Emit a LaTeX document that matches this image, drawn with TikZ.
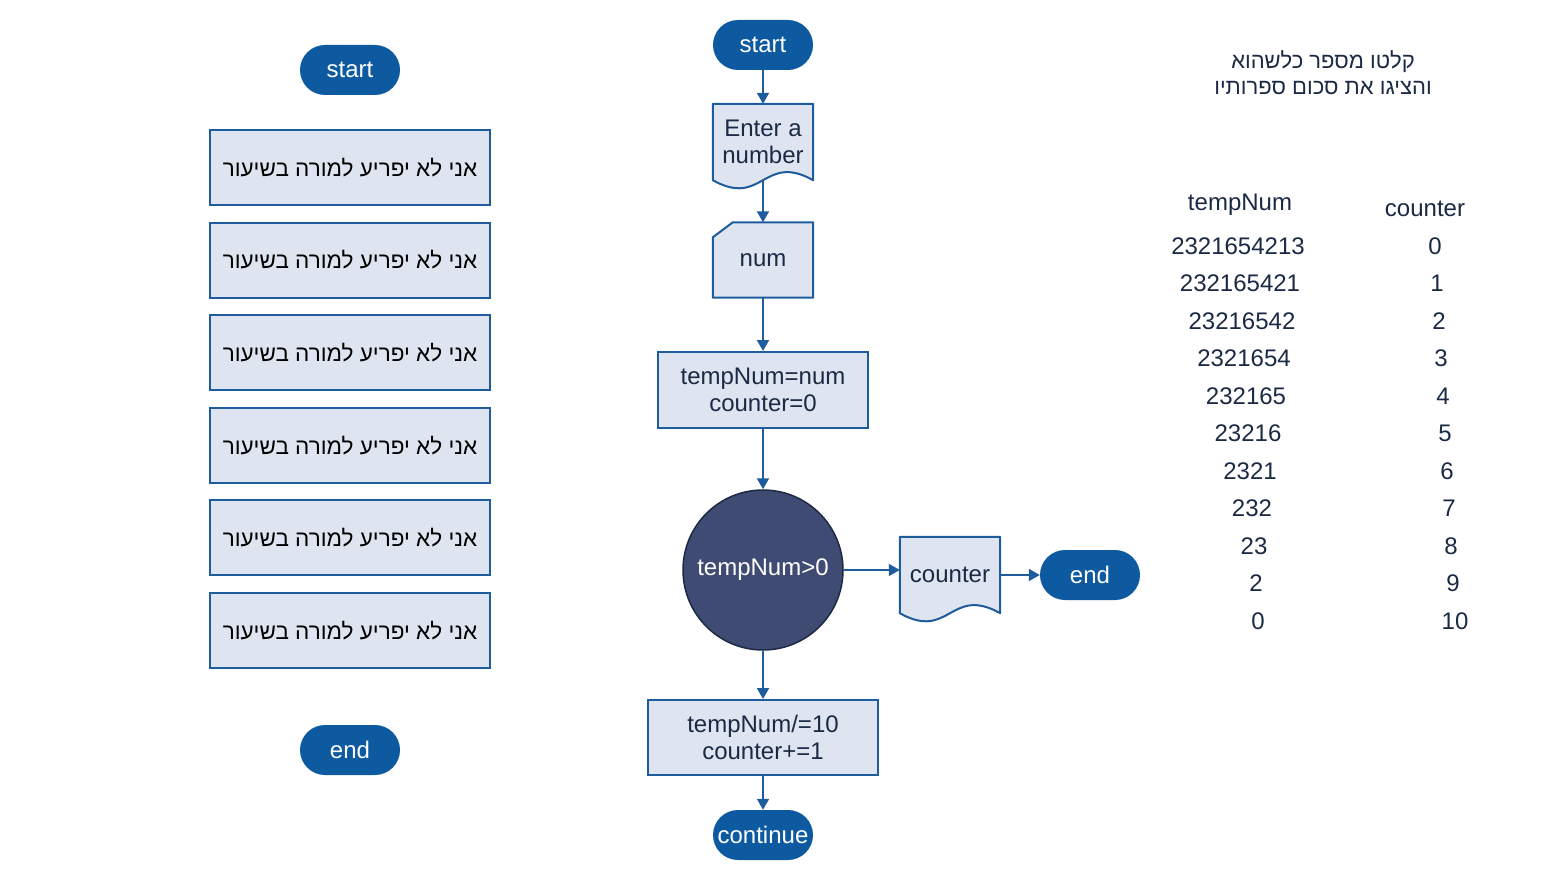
\documentclass[tikz,border=0pt]{standalone}
\usepackage{fontspec}
\setmainfont{Liberation Sans}
\newfontfamily\hebfont[Script=Hebrew]{Liberation Sans}
\TeXXeTstate=1
\usetikzlibrary{arrows.meta,backgrounds}

\definecolor{termblue}{HTML}{0E5AA0}
\definecolor{boxfill}{HTML}{DEE5F0}
\definecolor{boxline}{HTML}{1F5C9E}
\definecolor{darktext}{HTML}{1B2A44}
\definecolor{condfill}{HTML}{3F4B72}
\definecolor{condline}{HTML}{1E2A45}

\tikzset{
	every node/.style={font=\fontsize{24}{27}\selectfont, text=darktext},
	term/.style={rectangle, rounded corners=25pt, fill=termblue, text=white,
		minimum width=100pt, minimum height=50pt, inner sep=0pt},
	procbox/.style={rectangle, draw=boxline, line width=2pt, fill=boxfill,
		align=center, inner sep=0pt},
	shapebox/.style={rectangle, align=center, inner sep=0pt, minimum width=100pt},
	shapeline/.style={draw=boxline, line width=2pt, fill=boxfill, line join=round},
	cond/.style={circle, fill=condfill, draw=condline, line width=1.5pt,
		text=white, minimum size=160pt, inner sep=0pt},
	flow/.style={draw=boxline, line width=2pt, -{Triangle[length=11pt,width=12pt]}},
}

\begin{document}
\begin{tikzpicture}[x=1pt, y=-1pt]
\useasboundingbox (0,0) rectangle (1548,880);

% Lignes de gauche
\node[term] (lstart) at (350,70) {start};
	\foreach \i in {0,...,5}
		\node[procbox, minimum width=280pt, minimum height=75pt, text=black,
			font=\hebfont\fontsize{22.5}{27}\selectfont]
			(line\i) at (350,167.5+92.6*\i)
			{\beginR אני לא יפריע למורה בשיעור\endR};
\node[term] (lend) at (350,750) {end};

% Organigramme
\node[term] (start) at (763,45) {start};
\node[shapebox, minimum height=76pt] (enter) at (763,142) {Enter a\\number};
\node[shapebox, minimum height=75pt] (num) at (763,260) {num};
\node[procbox, minimum width=210pt, minimum height=76pt] (init) at (763,390) {tempNum=num\\counter=0};
\node[cond] (test) at (763,570) {tempNum>0};
\node[shapebox, minimum height=76pt] (out) at (950,575) {counter};
\node[term] (stop) at (1090,575) {end};
\node[procbox, minimum width=230pt, minimum height=75pt] (step) at (763,737.5) {tempNum/=10\\counter+=1};
\node[term] (cont) at (763,835) {continue};

\begin{scope}[on background layer]
	\foreach \d in {enter, out}
		\path[shapeline] (\d.north west) -- (\d.north east) -- (\d.south east)
			.. controls ([xshift=-50,yshift=28]\d.south east)
			and ([xshift=50,yshift=-28]\d.south west) .. (\d.south west) -- cycle;
	\path[shapeline] (num.south west) -- ([yshift=-15]num.north west)
		-- ([xshift=20]num.north west) -- (num.north east) -- (num.south east) -- cycle;
\end{scope}

\draw[flow] (start) -- (enter);
\draw[flow] (enter) -- (num);
\draw[flow] (num) -- (init);
\draw[flow] (init) -- (test);
\draw[flow] (test.east) -- (test.east -| out.west);
\draw[flow] (out.east) -- (stop.west);
\draw[flow] (test) -- (step);
\draw[flow] (step) -- (cont);

% Tableau
\node[font=\hebfont\fontsize{22}{26}\selectfont, align=center] (title) at (1323,73)
	{\beginR קלטו מספר כלשהוא\endR\\\beginR והציגו את סכום ספרותיו\endR};
\node (head1) at (1240,205) {tempNum};
\node (head2) at (1425,209) {counter};
	\foreach \val [count=\i from 0] in {2321654213, 232165421, 23216542, 2321654,
		232165, 23216, 2321, 232, 23, 2, 0}
	{
		\node (temp\i) at (1238+2*\i,246+37.5*\i) {\val};
		\node (cnt\i) at (1435+2*\i,246+37.5*\i) {\i};
	}
\end{tikzpicture}
\end{document}
